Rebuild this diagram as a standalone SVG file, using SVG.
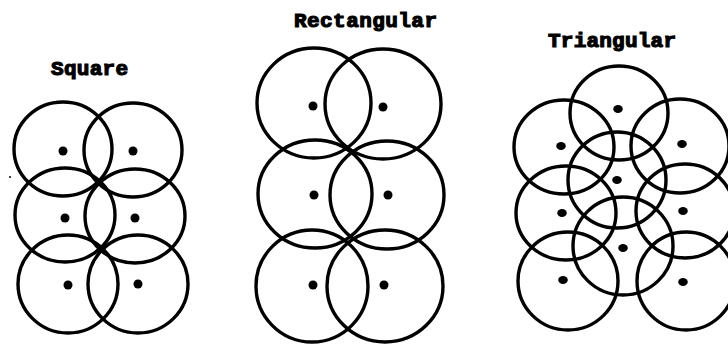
<svg xmlns="http://www.w3.org/2000/svg" width="728" height="344" viewBox="0 0 728 344">
<style>
.c{fill:none;stroke:#000;stroke-width:3.4}
.d{fill:#000}
.t{font-family:"Liberation Mono","DejaVu Sans Mono",monospace;font-weight:bold;font-size:21px;fill:#000;stroke:#000;stroke-width:1.2}
</style>
<rect width="728" height="344" fill="#fff"/>
<g id="square">
<text class="t" x="51" y="75" textLength="77">Square</text>
<ellipse class="c" cx="63" cy="149" rx="49" ry="47"/>
<ellipse class="c" cx="133" cy="150" rx="49" ry="47"/>
<ellipse class="c" cx="65" cy="215" rx="50" ry="47"/>
<ellipse class="c" cx="135" cy="216" rx="50" ry="47"/>
<ellipse class="c" cx="68" cy="284" rx="50" ry="49"/>
<ellipse class="c" cx="138" cy="284" rx="50" ry="49"/>
<circle class="d" cx="63" cy="151" r="4.5"/>
<circle class="d" cx="133" cy="151" r="4.5"/>
<circle class="d" cx="65" cy="218" r="4.5"/>
<circle class="d" cx="135" cy="218" r="4.5"/>
<circle class="d" cx="68" cy="285" r="4.5"/>
<circle class="d" cx="138" cy="284" r="4.5"/>
<circle class="d" cx="10" cy="177" r="1"/>
</g>
<g id="rectangular">
<text class="t" x="294" y="27" textLength="143">Rectangular</text>
<ellipse class="c" cx="314" cy="103" rx="57" ry="55"/>
<ellipse class="c" cx="383" cy="104" rx="58" ry="55"/>
<ellipse class="c" cx="315" cy="194" rx="57" ry="54"/>
<ellipse class="c" cx="387" cy="195" rx="57" ry="54"/>
<ellipse class="c" cx="312" cy="286" rx="56" ry="56"/>
<ellipse class="c" cx="385" cy="286" rx="58" ry="56"/>
<circle class="d" cx="313" cy="106" r="4.5"/>
<circle class="d" cx="383" cy="107" r="4.5"/>
<circle class="d" cx="314" cy="195" r="4.5"/>
<circle class="d" cx="388" cy="195" r="4.5"/>
<circle class="d" cx="313" cy="285" r="4.5"/>
<circle class="d" cx="384" cy="285" r="4.5"/>
</g>
<g id="triangular">
<text class="t" x="548" y="47" textLength="128">Triangular</text>
<ellipse class="c" cx="619" cy="113" rx="49" ry="47"/>
<ellipse class="c" cx="564" cy="147" rx="50" ry="47"/>
<ellipse class="c" cx="680" cy="146" rx="49" ry="47"/>
<ellipse class="c" cx="617" cy="180" rx="49" ry="48"/>
<ellipse class="c" cx="566" cy="213" rx="50" ry="47"/>
<ellipse class="c" cx="685" cy="211" rx="49" ry="47"/>
<ellipse class="c" cx="623" cy="246" rx="50" ry="49"/>
<ellipse class="c" cx="568" cy="281" rx="50" ry="49"/>
<ellipse class="c" cx="686" cy="281" rx="49" ry="49"/>
<ellipse class="d" cx="618" cy="109" rx="4.8" ry="4"/>
<ellipse class="d" cx="561" cy="146" rx="4.8" ry="4"/>
<ellipse class="d" cx="682" cy="144" rx="4.8" ry="4"/>
<ellipse class="d" cx="617" cy="180" rx="4.8" ry="4"/>
<ellipse class="d" cx="562" cy="213" rx="4.8" ry="4"/>
<ellipse class="d" cx="683" cy="211" rx="4.8" ry="4"/>
<ellipse class="d" cx="623" cy="248" rx="4.8" ry="4"/>
<ellipse class="d" cx="563" cy="280" rx="4.8" ry="4"/>
<ellipse class="d" cx="683" cy="282" rx="4.8" ry="4"/>
</g>
</svg>
